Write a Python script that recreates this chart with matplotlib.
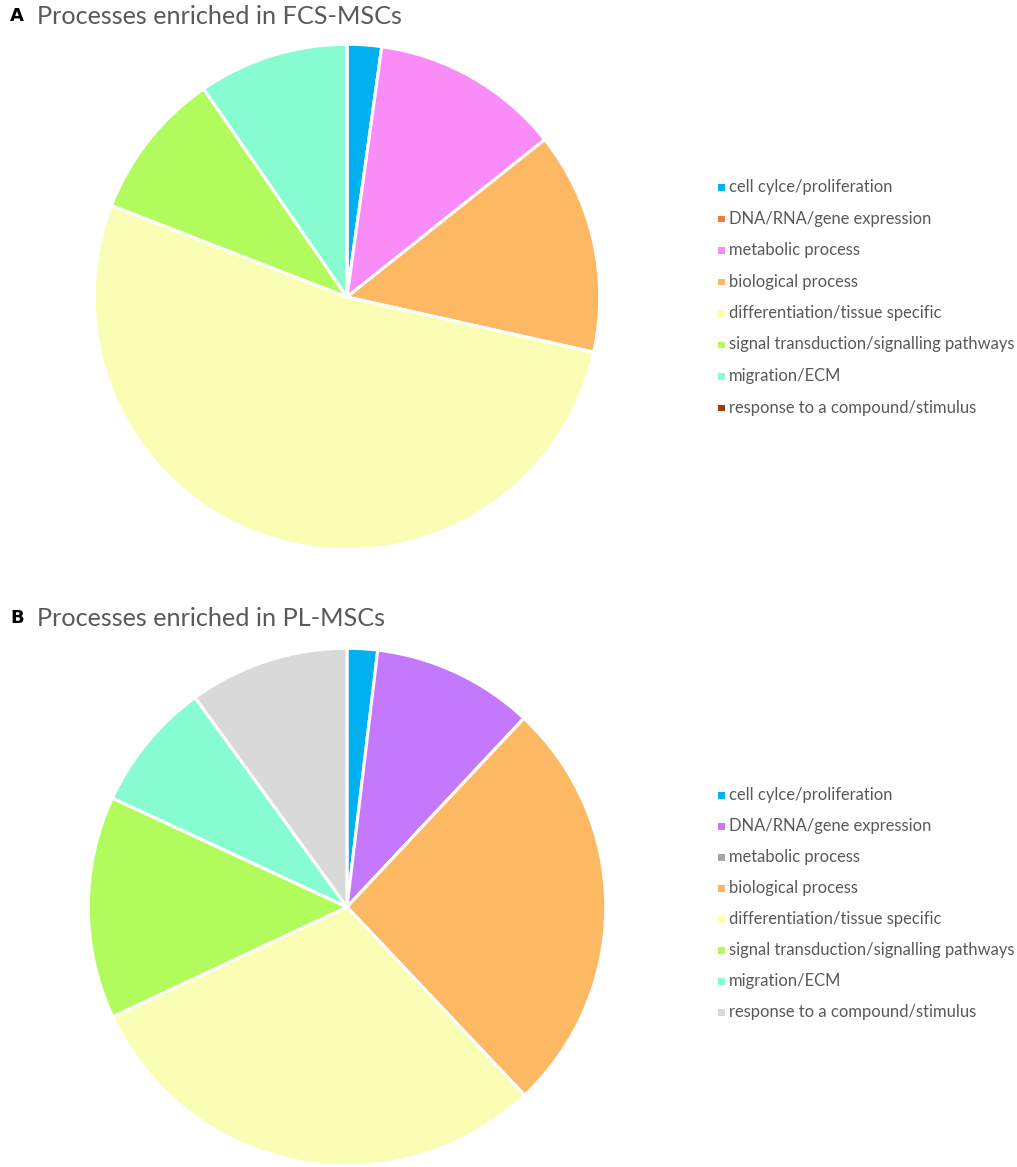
import matplotlib
matplotlib.use("Agg")
import matplotlib.pyplot as plt
from matplotlib.patches import Rectangle

# categories shared by both panels (legend order)
categories = ["cell cylce/proliferation", "DNA/RNA/gene expression", "metabolic process",
              "biological process", "differentiation/tissue specific",
              "signal transduction/signalling pathways", "migration/ECM",
              "response to a compound/stimulus"]

# share of each category (percent)
fcs_values = [2.2, 0, 12.1, 14.2, 52.4, 9.5, 9.6, 0]
pl_values = [1.9, 10.1, 0, 26.0, 30.1, 13.9, 8.1, 10.0]

fcs_colors = ["#00B0F0", "#F07A3A", "#F98CF6", "#FDB863", "#FAFDB4", "#B2FB5D", "#86FCD0", "#9C3A0C"]
pl_colors = ["#00B0F0", "#C478FC", "#A6A6A6", "#FDB863", "#FAFDB4", "#B2FB5D", "#86FCD0", "#D9D9D9"]

titles = ["Processes enriched in FCS-MSCs", "Processes enriched in PL-MSCs"]
panel_letters = ["A", "B"]

W, H = 1017, 1167
fig = plt.figure(figsize=(W / 100, H / 100), dpi=100)
grey = "#595959"
font = "Lato"

# pixel geometry of each panel: pie centre, radius, title y, first legend row y, legend step
panels = [
    dict(cx=347, cy=297, r=254, ty=16, ly=187, step=31.5),
    dict(cx=347, cy=907, r=260, ty=618, ly=795, step=31.0),
]

for p, vals, cols, title, letter in zip(panels, [fcs_values, pl_values], [fcs_colors, pl_colors], titles, panel_letters):
    ax = fig.add_axes([(p["cx"] - p["r"]) / W, (H - p["cy"] - p["r"]) / H, 2 * p["r"] / W, 2 * p["r"] / H])
    ax.pie(vals, colors=cols, startangle=90, counterclock=False, radius=1,
           wedgeprops=dict(edgecolor="white", linewidth=2.2))
    ax.set_xlim(-1.005, 1.005)
    ax.set_ylim(-1.005, 1.005)
    ax.axis("off")

    fig.text(10 / W, 1 - p["ty"] / H, letter, fontsize=13, fontweight="bold", color="black",
             va="center", ha="left", family="DejaVu Sans")
    fig.text(37 / W, 1 - p["ty"] / H, title, fontsize=18.2, color=grey, va="center", ha="left", family=font)

    for i, (lab, c) in enumerate(zip(categories, cols)):
        y = p["ly"] + i * p["step"]
        fig.patches.append(Rectangle((718 / W, 1 - (y + 3.5) / H), 6.5 / W, 6.5 / H,
                                     transform=fig.transFigure, facecolor=c, edgecolor="none"))
        fig.text(729 / W, 1 - y / H, lab, fontsize=11.9, color=grey, va="center", ha="left", family=font)

fig.savefig("out.png", dpi=100, facecolor="white")
